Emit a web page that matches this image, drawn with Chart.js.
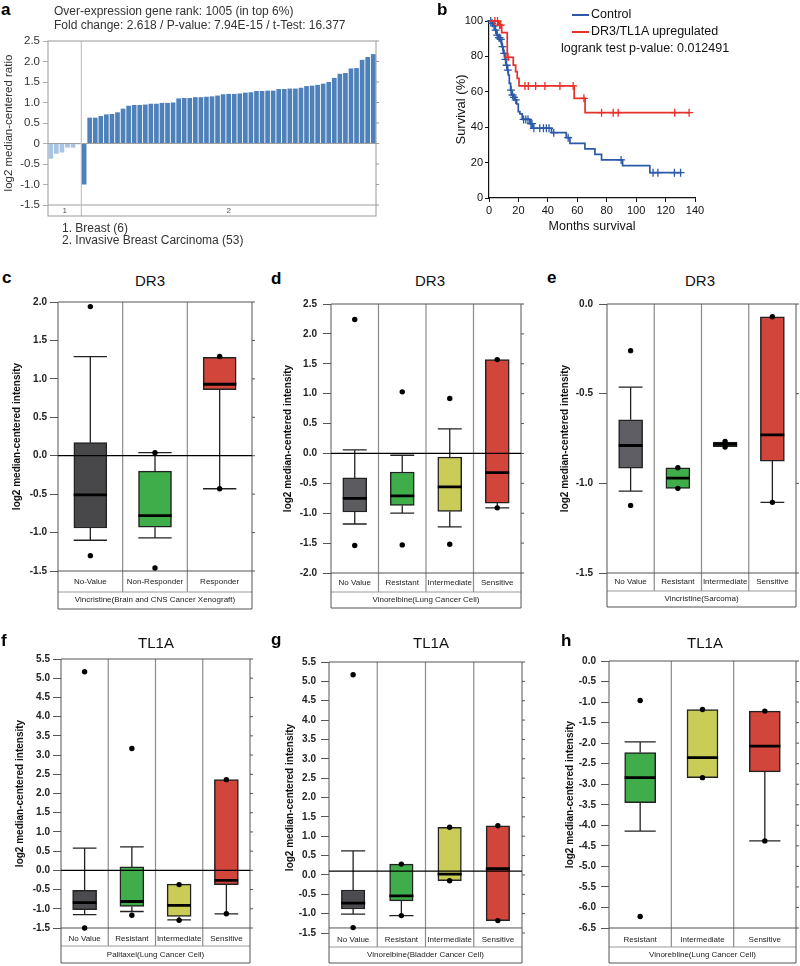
<!DOCTYPE html>
<html>
<head>
<meta charset="utf-8">
<script src="https://cdn.jsdelivr.net/npm/chart.js@4.4.1/dist/chart.umd.min.js"></script>
<style>
  html, body { margin:0; padding:0; background:#fff; }
  body { position:relative; width:800px; height:966px; overflow:hidden; font-family:'Liberation Sans', Arial, Helvetica, sans-serif; color:#111; }
  canvas { position:absolute; z-index:1; }
  .t { position:absolute; white-space:nowrap; z-index:2; }
  .lt { font-weight:bold; font-size:17px; line-height:17px; color:#000; }
  .ti { font-size:15px; line-height:15px; width:120px; text-align:center; color:#111; }
  .hd { font-size:12px; line-height:12px; color:#333; }
  .lg { font-size:12.5px; line-height:12.5px; color:#111; }
  .ln { position:absolute; height:2px; width:17px; z-index:2; }
</style>
</head>
<body>
<div class="t lt" style="left:1px;top:1px">a</div>
<div class="t lt" style="left:437px;top:1px">b</div>
<div class="t lt" style="left:2px;top:269px">c</div>
<div class="t lt" style="left:271px;top:270px">d</div>
<div class="t lt" style="left:547px;top:269px">e</div>
<div class="t lt" style="left:1px;top:632px">f</div>
<div class="t lt" style="left:271px;top:631px">g</div>
<div class="t lt" style="left:561px;top:632px">h</div>

<div class="t ti" style="left:90px;top:273px">DR3</div>
<div class="t ti" style="left:370px;top:273px">DR3</div>
<div class="t ti" style="left:640px;top:273px">DR3</div>
<div class="t ti" style="left:96px;top:635px">TL1A</div>
<div class="t ti" style="left:371px;top:635px">TL1A</div>
<div class="t ti" style="left:645px;top:635px">TL1A</div>

<div class="t hd" style="left:54px;top:5px">Over-expression gene rank: 1005 (in top 6%)</div>
<div class="t hd" style="left:54px;top:19px">Fold change: 2.618 / P-value: 7.94E-15 / t-Test: 16.377</div>

<div class="ln" style="left:572px;top:14px;background:#2b59a6"></div>
<div class="ln" style="left:572px;top:31px;background:#e8302a"></div>
<div class="t lg" style="left:591px;top:8px">Control</div>
<div class="t lg" style="left:591px;top:25px">DR3/TL1A upregulated</div>
<div class="t lg" style="left:561px;top:42px">logrank test p-value: 0.012491</div>

<script>
// ===================== DATA =====================
// Panel a: log2 median-centered ratio per sample
const aGroupNames = ['Breast (6)', 'Invasive Breast Carcinoma (53)'];
const aGroup1Values = [-0.37, -0.25, -0.22, -0.10, -0.10, -0.02];
const aGroup2Values = [-1.00, 0.63, 0.63, 0.67, 0.71, 0.72, 0.76, 0.85, 0.92, 0.94, 0.94,
  0.95, 0.97, 0.97, 0.99, 0.99, 1.00, 1.10, 1.11, 1.11, 1.13,
  1.13, 1.14, 1.15, 1.17, 1.20, 1.21, 1.21, 1.22, 1.24, 1.25,
  1.28, 1.28, 1.29, 1.29, 1.33, 1.33, 1.34, 1.34, 1.36, 1.40,
  1.41, 1.43, 1.46, 1.50, 1.60, 1.70, 1.72, 1.83, 1.84, 2.04,
  2.11, 2.18];
const aYRange = [-1.5, 2.5];

// Panel b: Kaplan-Meier steps [months, survival %] and censored marks
const bControlSteps = [[0,100],[1.8,98.7],[2.9,97.2],[4.1,94.9],[5.2,92],[6.3,90.6],[7.5,89.6],[8.6,85.5],
  [9.7,81.7],[10.9,78.3],[11.5,75],[12.4,72.3],[13.1,69.5],[13.8,64.8],[14.7,61],[15.4,58.2],[16.5,56.9],
  [17.6,55.4],[18.8,53.1],[19.9,48.8],[21.0,47.5],[22.6,44.4],[27.8,42],[29.6,40.3],[30.1,39.4],
  [42.5,36.9],[52.5,34.1],[55.0,30.9],[65.2,27.7],[72.0,24.7],[76.5,21.5],[90.8,18.3],[109.3,14.3],[130.8,14.3]];
const bControlCensored = [[1.2,100],[2.2,98.7],[3.4,97.2],[4.5,94.9],[5.6,92],[6.8,90.6],[7.2,90.6],[8.0,89.6],
  [9.2,85.5],[10.3,81.7],[11.2,78.3],[12.0,75],[12.8,72.3],[15.0,61],[16.0,58.2],[17.0,56.9],[18.2,55.4],
  [23.5,44.4],[25.0,44.4],[26.5,44.4],[28.5,42],[29.2,42],[30.5,39.4],[34.5,39.4],[37.0,39.4],[39.0,39.4],
  [40.8,39.4],[44.0,36.9],[53.8,34.1],[89.8,21.5],[111.5,14.3],[114.8,14.3],[126.0,14.3],[130.2,14.3]];
const bUpSteps = [[0,100],[6.3,97.7],[8.6,93.4],[12.4,79.5],[16.5,75.1],[18.1,71.4],[19.2,67.6],[20.4,63.3],
  [57.9,56.3],[65.3,48.2],[136.4,48.2]];
const bUpCensored = [[4.0,100],[5.8,100],[7.2,97.7],[8.0,97.7],[13.0,79.5],[24.4,63.3],[26.7,63.3],[31.7,63.3],
  [38.0,63.3],[48.2,63.3],[57.2,63.3],[64.5,56.3],[76.5,48.2],[84.4,48.2],[87.8,48.2],[126.2,48.2],[136.0,48.2]];

// Panels c-h: box plot statistics
const cCategories = ['No-Value', 'Non-Responder', 'Responder'];
const cQ1 = [-0.94, -0.93, 0.86];
const cMedian = [-0.51, -0.78, 0.93];
const cQ3 = [0.17, -0.20, 1.28];
const cLow = [-1.10, -1.07, -0.43];
const cHigh = [1.29, 0.04, null];
const cPoints = [[1.94, -1.30], [0.04, -1.46], [1.29, -0.43]];
const cRef = 0;
const cYRange = [-1.5, 2.0];

const dCategories = ['No Value', 'Resistant', 'Intermediate', 'Sensitive'];
const dQ1 = [-0.98, -0.87, -0.97, -0.83];
const dMedian = [-0.75, -0.71, -0.56, -0.32];
const dQ3 = [-0.41, -0.31, -0.06, 1.57];
const dLow = [-1.18, -1.00, -1.23, -0.91];
const dHigh = [0.06, -0.03, 0.41, null];
const dPoints = [[2.24, -1.54], [1.03, -1.53], [0.92, -1.52], [1.57, -0.91]];
const dRef = 0;
const dYRange = [-2.0, 2.5];

const eCategories = ['No Value', 'Resistant', 'Intermediate', 'Sensitive'];
const eQ1 = [-0.915, -1.028, -0.795, -0.876];
const eMedian = [-0.789, -0.971, -0.782, -0.73];
const eQ3 = [-0.646, -0.913, -0.770, -0.071];
const eLow = [-1.043, null, null, -1.106];
const eHigh = [-0.464, null, null, null];
const ePoints = [[-0.26, -1.123], [-0.913, -1.028], [-0.767, -0.798], [-0.071, -1.106]];
const eRef = null;
const eYRange = [-1.5, 0.0];

const fCategories = ['No Value', 'Resistant', 'Intermediate', 'Sensitive'];
const fQ1 = [-1.02, -0.94, -1.20, -0.37];
const fMedian = [-0.84, -0.81, -0.91, -0.26];
const fQ3 = [-0.52, 0.09, -0.36, 2.36];
const fLow = [-1.15, -1.07, -1.29, -1.13];
const fHigh = [0.58, 0.61, null, null];
const fPoints = [[5.17, -1.50], [3.17, -1.17], [-0.37, -1.30], [2.36, -1.13]];
const fRef = 0;
const fYRange = [-1.5, 5.5];

const gCategories = ['No Value', 'Resistant', 'Intermediate', 'Sensitive'];
const gQ1 = [-0.88, -0.67, -0.15, -1.18];
const gMedian = [-0.73, -0.54, 0.02, 0.16];
const gQ3 = [-0.39, 0.28, 1.23, 1.27];
const gLow = [-1.01, -1.05, null, null];
const gHigh = [0.62, null, null, null];
const gPoints = [[5.17, -1.36], [0.28, -1.05], [1.23, -0.15], [1.27, -1.18]];
const gRef = 0.1;
const gYRange = [-1.5, 5.5];

const hCategories = ['Resistant', 'Intermediate', 'Sensitive'];
const hQ1 = [-3.45, -2.84, -2.70];
const hMedian = [-2.84, -2.35, -2.07];
const hQ3 = [-2.23, -1.18, -1.22];
const hLow = [-4.14, null, -4.38];
const hHigh = [-1.97, null, null];
const hPoints = [[-0.96, -6.22], [-1.18, -2.84], [-1.22, -4.38]];
const hRef = null;
const hYRange = [-6.5, 0.0];

// ===================== STYLE / LAYOUT =====================
Chart.defaults.font.family = "'Liberation Sans', Arial, Helvetica, sans-serif";
Chart.defaults.color = '#222';
Chart.defaults.animation = false;

const GRAY = '#4c4c50', GREEN = '#3fae4a', YELLOW = '#c9cc57', RED = '#d2453a';

function seg(ctx, x1, y1, x2, y2) { ctx.beginPath(); ctx.moveTo(x1, y1); ctx.lineTo(x2, y2); ctx.stroke(); }

function mkCanvas(geo) {
  const cv = document.createElement('canvas');
  cv.width = geo.w; cv.height = geo.h;
  cv.style.left = geo.left + 'px'; cv.style.top = geo.top + 'px';
  cv.style.width = geo.w + 'px'; cv.style.height = geo.h + 'px';
  document.body.appendChild(cv);
  return cv;
}

// ---------- Panel a ----------
(function () {
  const geo = {left:0, top:30, w:390, h:200, chartLeft:48, chartTop:41, chartRight:376, chartBottom:205, rowBottom:216, yTitleX:8.5};
  const values = aGroup1Values.concat(aGroup2Values);
  const labels = values.map((v, i) => String(i + 1));
  const colors = values.map((v, i) => i < aGroup1Values.length ? '#a9c5e3' : '#4e80ba');
  const framePlugin = {
    id: 'aFrame',
    beforeDatasetsDraw(chart) {
      const {ctx, chartArea: ca, scales: {x, y}} = chart;
      const bottom = x.bottom;
      const n1 = aGroup1Values.length;
      const sx = (x.getPixelForValue(n1 - 1) + x.getPixelForValue(n1)) / 2;
      ctx.save();
      ctx.strokeStyle = '#cfcfcf'; ctx.lineWidth = 2;
      seg(ctx, ca.left, ca.bottom, ca.right, ca.bottom);
      ctx.strokeStyle = '#c4c4c4'; ctx.lineWidth = 1.2;
      seg(ctx, sx, ca.top, sx, bottom);
      ctx.strokeStyle = '#9a9a9a'; ctx.lineWidth = 1;
      ctx.strokeRect(ca.left, ca.top, ca.right - ca.left, bottom - ca.top);
      y.ticks.forEach((t, i) => { const py = y.getPixelForTick(i); seg(ctx, ca.right, py, ca.right + 3, py); });
      ctx.fillStyle = '#555'; ctx.font = "8px 'Liberation Sans', Arial, sans-serif";
      ctx.textAlign = 'center'; ctx.textBaseline = 'middle';
      const my = (ca.bottom + bottom) / 2 + 0.5;
      ctx.fillText('1', (ca.left + sx) / 2, my);
      ctx.fillText('2', (sx + ca.right) / 2, my);
      ctx.restore();
    }
  };
  new Chart(mkCanvas(geo), {
    type: 'bar',
    data: { labels, datasets: [{ data: values, backgroundColor: colors, borderWidth: 0, barPercentage: 0.84, categoryPercentage: 1 }] },
    options: {
      responsive: false, animation: false,
      layout: { padding: { top: geo.chartTop - geo.top, left: 0, right: geo.left + geo.w - geo.chartRight, bottom: geo.top + geo.h - geo.rowBottom } },
      plugins: { legend: { display: false }, tooltip: { enabled: false } },
      scales: {
        x: { ticks: { display: false }, grid: { display: false, drawTicks: false }, border: { display: false },
             afterFit: s => { s.height = geo.rowBottom - geo.chartBottom; } },
        y: { min: aYRange[0], max: aYRange[1],
             afterFit: s => { s.width = geo.chartLeft - geo.left; },
             ticks: { stepSize: 0.5, maxTicksLimit: 100, autoSkip: false, padding: 3, color: '#333', font: { size: 11.5 },
                      callback: v => v === 0 ? '0' : v.toFixed(1) },
             grid: { color: c => (c.tick && c.tick.value === 0) ? '#a0a0a0' : 'rgba(0,0,0,0)', tickColor: '#b0b0b0', tickLength: 5, drawTicks: true },
             border: { display: false },
             title: { display: true, text: 'log2 median-centered ratio', color: '#333', font: { size: 11.5 },
                      padding: { top: geo.yTitleX - geo.left - 6.9, bottom: 0 } } }
      }
    },
    plugins: [framePlugin]
  });
  aGroupNames.forEach((nm, i) => {
    const el = document.createElement('div');
    el.className = 't hd';
    el.style.left = '62px'; el.style.top = (222 + 12 * i) + 'px';
    el.textContent = (i + 1) + '. ' + nm;
    document.body.appendChild(el);
  });
})();

// ---------- Panel b ----------
(function () {
  const geo = {left:440, top:0, w:360, h:245, chartLeft:489, chartTop:21, chartRight:695, chartBottom:198, axisBottom:238};
  const BLUE = '#2b59a6', REDL = '#e8302a';
  const toXY = arr => arr.map(p => ({ x: p[0], y: p[1] }));
  new Chart(mkCanvas(geo), {
    type: 'line',
    data: { datasets: [
      { data: toXY(bUpCensored), showLine: false, pointStyle: 'cross', pointRadius: 4, pointBorderWidth: 1.3, borderColor: REDL, pointBorderColor: REDL, clip: false },
      { data: toXY(bUpSteps), stepped: true, borderColor: REDL, borderWidth: 1.7, pointRadius: 0, clip: false },
      { data: toXY(bControlCensored), showLine: false, pointStyle: 'cross', pointRadius: 4, pointBorderWidth: 1.3, borderColor: BLUE, pointBorderColor: BLUE, clip: false },
      { data: toXY(bControlSteps), stepped: true, borderColor: BLUE, borderWidth: 1.7, pointRadius: 0, clip: false }
    ] },
    options: {
      responsive: false, animation: false,
      layout: { padding: { top: geo.chartTop - geo.top, left: 0, right: geo.left + geo.w - geo.chartRight, bottom: geo.top + geo.h - geo.axisBottom } },
      plugins: { legend: { display: false }, tooltip: { enabled: false } },
      scales: {
        x: { type: 'linear', min: 0, max: 140,
             afterFit: s => { s.height = geo.axisBottom - geo.chartBottom; },
             ticks: { stepSize: 20, color: '#111', font: { size: 11 }, padding: 2, maxRotation: 0 },
             grid: { drawOnChartArea: false, tickLength: 4, tickColor: '#111' },
             border: { color: '#111', width: 1.2 },
             title: { display: true, text: 'Months survival', color: '#111', font: { size: 12.5 }, padding: { top: 0, bottom: 3.8 } } },
        y: { min: 0, max: 100,
             afterFit: s => { s.width = geo.chartLeft - geo.left; },
             ticks: { stepSize: 20, color: '#111', font: { size: 11 }, padding: 2 },
             grid: { drawOnChartArea: false, tickLength: 4, tickColor: '#111' },
             border: { color: '#111', width: 1.2 },
             title: { display: true, text: 'Survival (%)', color: '#111', font: { size: 13 }, padding: { top: 13.2, bottom: 0 } } }
      }
    }
  });
})();

// ---------- Box plot panels ----------
function boxChart(geo, d) {
  const n = d.categories.length;
  const cap = geo.capHalf;
  const boxes = d.categories.map((c, i) => ({ x: i, y: [d.q1[i], d.q3[i]] }));
  const whisk = [];
  d.categories.forEach((c, i) => {
    if (d.high[i] !== null) {
      whisk.push({x:i, y:d.q3[i]}, {x:i, y:d.high[i]}, {x:i, y:null},
                 {x:i - cap, y:d.high[i]}, {x:i + cap, y:d.high[i]}, {x:i, y:null});
    }
    if (d.low[i] !== null) {
      whisk.push({x:i, y:d.q1[i]}, {x:i, y:d.low[i]}, {x:i, y:null},
                 {x:i - cap, y:d.low[i]}, {x:i + cap, y:d.low[i]}, {x:i, y:null});
    }
  });
  const meds = [];
  d.categories.forEach((c, i) => { meds.push({x:i - cap, y:d.median[i]}, {x:i + cap, y:d.median[i]}, {x:i, y:null}); });
  const dots = [];
  d.points.forEach((arr, i) => arr.forEach(v => dots.push({ x: i, y: v })));

  const datasets = [
    { type: 'line', data: dots, showLine: false, pointRadius: 2.7, pointBackgroundColor: '#000', pointBorderColor: '#000', pointBorderWidth: 0, order: 0, clip: false }
  ];
  if (d.ref !== null) {
    datasets.push({ type: 'line', data: [{x:-0.5, y:d.ref}, {x:n - 0.5, y:d.ref}], borderColor: '#000', borderWidth: 1.3, pointRadius: 0, order: 1, clip: false });
  }
  datasets.push(
    { type: 'line', data: meds, borderColor: '#000', borderWidth: 2.8, pointRadius: 0, spanGaps: false, order: 2, clip: false },
    { type: 'bar', data: boxes, backgroundColor: d.colors, borderColor: '#222', borderWidth: 1.5, borderSkipped: false, barThickness: geo.barPx, order: 3 },
    { type: 'line', data: whisk, borderColor: '#222', borderWidth: 1.3, pointRadius: 0, spanGaps: false, order: 4, clip: false }
  );

  const framePlugin = {
    id: 'boxFrame',
    beforeDatasetsDraw(chart) {
      const {ctx, chartArea: ca, scales: {x, y}} = chart;
      const fb = geo.frameBottomValue !== undefined ? y.getPixelForValue(geo.frameBottomValue) : ca.bottom;
      const lb = ca.bottom + (geo.labelBottom - geo.chartBottom);
      const tb = x.bottom;
      ctx.save();
      ctx.lineWidth = 1.2; ctx.strokeStyle = '#8c8c8c';
      for (let i = 0; i < n - 1; i++) { const px = x.getPixelForValue(i + 0.5); seg(ctx, px, ca.top, px, lb); }
      ctx.strokeStyle = '#9a9a9a'; ctx.lineWidth = 1;
      seg(ctx, ca.left, lb, ca.right, lb);
      ctx.strokeStyle = '#555';
      seg(ctx, ca.left, ca.top, ca.right, ca.top);
      seg(ctx, ca.left, ca.top, ca.left, tb);
      seg(ctx, ca.right, ca.top, ca.right, tb);
      seg(ctx, ca.left, fb, ca.right, fb);
      seg(ctx, ca.left, tb, ca.right, tb);
      y.ticks.forEach((t, i) => { const py = y.getPixelForTick(i); seg(ctx, ca.right, py, ca.right + 3, py); });
      ctx.restore();
    }
  };

  new Chart(mkCanvas(geo), {
    type: 'bar',
    data: { datasets },
    options: {
      responsive: false, animation: false,
      layout: { padding: { top: geo.chartTop - geo.top, left: 0, right: geo.left + geo.w - geo.chartRight, bottom: geo.top + geo.h - geo.titleBottom } },
      plugins: { legend: { display: false }, tooltip: { enabled: false } },
      scales: {
        x: { type: 'linear', min: -0.5, max: n - 0.5, offset: false,
             afterFit: s => { s.height = geo.titleBottom - geo.chartBottom; },
             afterBuildTicks: s => { s.ticks = d.categories.map((c, i) => ({ value: i })); },
             ticks: { autoSkip: false, maxRotation: 0, minRotation: 0, padding: geo.xTickPad, color: '#222', font: { size: 8 },
                      callback: v => d.categories[Math.round(v)] },
             grid: { display: false, drawTicks: false, offset: false },
             border: { display: false },
             title: { display: true, text: d.drug, color: '#222', font: { size: 8 }, padding: { top: 0, bottom: geo.xTitlePb } } },
        y: { type: 'linear', min: d.yRange[0], max: d.yRange[1], beginAtZero: false,
             afterFit: s => { s.width = geo.chartLeft - geo.left; },
             ticks: { stepSize: 0.5, maxTicksLimit: 100, autoSkip: false, padding: geo.tickPad, color: '#222',
                      font: { size: 10, weight: 'bold' }, callback: v => v.toFixed(1) },
             grid: { drawOnChartArea: false, drawTicks: true, tickLength: 8, tickColor: '#555' },
             border: { display: false },
             title: { display: true, text: 'log2 median-centered intensity', color: '#111', font: { size: 10, weight: 'bold' },
                      padding: { top: geo.yTitleX - geo.left - 6, bottom: 0 } } }
      }
    },
    plugins: [framePlugin]
  });
}

boxChart({left:0, top:290, w:262, h:325, chartLeft:58, chartTop:302, chartRight:252, chartBottom:571, labelBottom:592, titleBottom:609,
          yTitleX:17, tickPad:3, xTickPad:6, xTitlePb:4, barPx:33, capHalf:0.258},
  {categories:cCategories, q1:cQ1, median:cMedian, q3:cQ3, low:cLow, high:cHigh, points:cPoints, ref:cRef, yRange:cYRange,
   colors:['#48484a', GREEN, RED], drug:'Vincristine(Brain and CNS Cancer Xenograft)'});

boxChart({left:268, top:292, w:262, h:323, chartLeft:331, chartTop:303, chartRight:521, chartBottom:573, labelBottom:592, titleBottom:608,
          yTitleX:288.3, tickPad:6, xTickPad:4.5, xTitlePb:3.2, barPx:24, capHalf:0.252},
  {categories:dCategories, q1:dQ1, median:dMedian, q3:dQ3, low:dLow, high:dHigh, points:dPoints, ref:dRef, yRange:dYRange,
   colors:['#5c5c60', GREEN, YELLOW, RED], drug:'Vinorelbine(Lung Cancer Cell)'});

boxChart({left:532, top:292, w:268, h:323, chartLeft:607, chartTop:303, chartRight:798, chartBottom:573, labelBottom:591, titleBottom:607,
          yTitleX:565, tickPad:6, xTickPad:4, xTitlePb:3.2, barPx:24, capHalf:0.252},
  {categories:eCategories, q1:eQ1, median:eMedian, q3:eQ3, low:eLow, high:eHigh, points:ePoints, ref:eRef, yRange:eYRange,
   colors:['#5e5e64', GREEN, YELLOW, RED], drug:'Vincristine(Sarcoma)'});

boxChart({left:0, top:649, w:262, h:317, chartLeft:61, chartTop:659, chartRight:250, chartBottom:928, labelBottom:946, titleBottom:963,
          yTitleX:20.7, tickPad:3, xTickPad:5.5, xTitlePb:3.2, barPx:24, capHalf:0.25},
  {categories:fCategories, q1:fQ1, median:fMedian, q3:fQ3, low:fLow, high:fHigh, points:fPoints, ref:fRef, yRange:fYRange,
   colors:[GRAY, GREEN, YELLOW, RED], drug:'Palitaxel(Lung Cancer Cell)'});

boxChart({left:268, top:650, w:262, h:316, chartLeft:329, chartTop:662, chartRight:522, chartBottom:933, labelBottom:947, titleBottom:963,
          yTitleX:290, tickPad:5, xTickPad:1.5, xTitlePb:3.2, barPx:23.5, capHalf:0.25, frameBottomValue:-1.37},
  {categories:gCategories, q1:gQ1, median:gMedian, q3:gQ3, low:gLow, high:gHigh, points:gPoints, ref:gRef, yRange:gYRange,
   colors:[GRAY, GREEN, YELLOW, RED], drug:'Vinorelbine(Bladder Cancer Cell)'});

boxChart({left:532, top:650, w:268, h:316, chartLeft:609, chartTop:661, chartRight:797, chartBottom:928, labelBottom:947, titleBottom:963,
          yTitleX:570, tickPad:5, xTickPad:6.5, xTitlePb:3.2, barPx:31, capHalf:0.25},
  {categories:hCategories, q1:hQ1, median:hMedian, q3:hQ3, low:hLow, high:hHigh, points:hPoints, ref:hRef, yRange:hYRange,
   colors:[GREEN, YELLOW, RED], drug:'Vinorebline(Lung Cancer Cell)'});
</script>
</body>
</html>
